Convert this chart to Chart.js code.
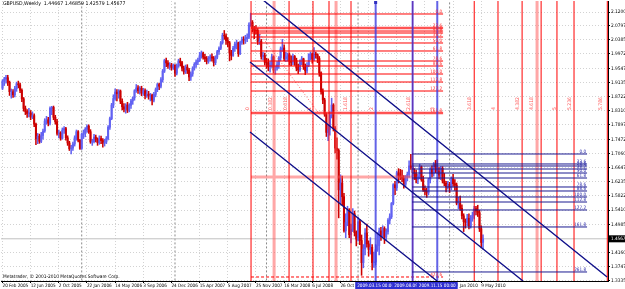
<!DOCTYPE html>
<html>
<head>
<meta charset="utf-8">
<script src="https://cdn.jsdelivr.net/npm/chart.js@4.4.0/dist/chart.umd.min.js"></script>
<style>
  html, body { margin: 0; padding: 0; background: #fff; overflow: hidden; }
  canvas { display: block; }
</style>
</head>
<body>
<canvas id="chart" width="625" height="289" style="width:625px;height:289px"></canvas>
<script>
// GBPUSD weekly, bar 0 = week of 20 Feb 2005
const titleText = "GBPUSD,Weekly  1.44667 1.46859 1.42579 1.45677";
const copyrightText = "Metatrader, \u00a9 2001-2010 MetaQuotes Software Corp.";

const xTickWeeks = [0, 16, 32, 48, 64, 80, 96, 112, 128, 144, 160, 176, 192, 208, 224, 240, 256, 272];
const xTickLabels = ["20 Feb 2005", "12 Jun 2005", "2 Oct 2005", "22 Jan 2006", "14 May 2006", "3 Sep 2006",
  "24 Dec 2006", "15 Apr 2007", "5 Aug 2007", "25 Nov 2007", "16 Mar 2008", "6 Jul 2008", "26 Oct 2008",
  "15 Feb 2009", "7 Jun 2009", "27 Sep 2009", "17 Jan 2010", "9 May 2010"];

const yTickValues = [2.12, 2.07975, 2.0385, 1.99725, 1.95475, 1.9135, 1.87225, 1.831, 1.78975, 1.74725,
  1.706, 1.66475, 1.6235, 1.58225, 1.541, 1.4985, 1.416, 1.37475, 1.3335];
const yTickLabels = ["2.12000", "2.07975", "2.03850", "1.99725", "1.95475", "1.91350", "1.87225", "1.83100",
  "1.78975", "1.74725", "1.70600", "1.66475", "1.62350", "1.58225", "1.54100", "1.49850", "1.41600",
  "1.37475", "1.33350"];

const lastPrice = 1.45677;
const lastPriceLabel = "1.45677";
const yearStartWeeks = [45, 98, 150, 202, 254];

const opens = [
  1.897, 1.918, 1.924, 1.928, 1.914, 1.887, 1.887, 1.878, 1.896, 1.910,
  1.907, 1.891, 1.866, 1.838, 1.829, 1.823, 1.825, 1.813, 1.817, 1.792,
  1.749, 1.757, 1.742, 1.759, 1.772, 1.801, 1.805, 1.795, 1.838, 1.841,
  1.812, 1.799, 1.765, 1.766, 1.751, 1.775, 1.779, 1.752, 1.737, 1.720,
  1.722, 1.734, 1.752, 1.770, 1.745, 1.721, 1.762, 1.766, 1.777, 1.786,
  1.770, 1.740, 1.741, 1.754, 1.748, 1.738, 1.750, 1.744, 1.737, 1.740,
  1.750, 1.783, 1.808, 1.848, 1.867, 1.886, 1.881, 1.889, 1.859, 1.843,
  1.836, 1.848, 1.833, 1.847, 1.860, 1.869, 1.890, 1.898, 1.890, 1.897,
  1.883, 1.890, 1.875, 1.880, 1.874, 1.877, 1.862, 1.879, 1.893, 1.908,
  1.903, 1.922, 1.947, 1.978, 1.971, 1.962, 1.965, 1.958, 1.964, 1.941,
  1.963, 1.977, 1.972, 1.956, 1.945, 1.959, 1.950, 1.930, 1.939, 1.955,
  1.967, 1.974, 1.978, 1.992, 2.000, 1.988, 1.984, 1.976, 1.984, 1.989,
  1.985, 1.972, 1.988, 2.004, 2.014, 2.030, 2.052, 2.050, 2.036, 2.030,
  2.000, 1.993, 2.014, 2.026, 2.030, 1.998, 2.031, 2.040, 2.038, 2.042,
  2.046, 2.082, 2.090, 2.072, 2.067, 2.066, 2.033, 2.035, 1.990, 1.993,
  1.973, 1.971, 1.960, 1.965, 1.989, 1.950, 1.956, 1.966, 1.986, 2.012,
  2.015, 1.984, 1.989, 1.995, 1.976, 1.973, 1.990, 1.978, 1.957, 1.951,
  1.977, 1.983, 1.960, 1.948, 1.964, 1.996, 1.998, 1.982, 1.997, 1.995,
  1.984, 1.942, 1.887, 1.863, 1.821, 1.768, 1.776, 1.819, 1.848, 1.779,
  1.722, 1.715, 1.600, 1.620, 1.580, 1.480, 1.504, 1.540, 1.469, 1.484,
  1.530, 1.475, 1.456, 1.507, 1.452, 1.387, 1.427, 1.474, 1.442, 1.426,
  1.432, 1.387, 1.389, 1.425, 1.437, 1.480, 1.465, 1.487, 1.462, 1.478,
  1.511, 1.521, 1.560, 1.615, 1.606, 1.650, 1.641, 1.637, 1.634, 1.616,
  1.638, 1.645, 1.670, 1.666, 1.650, 1.647, 1.630, 1.640, 1.667, 1.630,
  1.600, 1.596, 1.591, 1.630, 1.660, 1.648, 1.674, 1.666, 1.655, 1.643,
  1.663, 1.626, 1.619, 1.609, 1.616, 1.607, 1.633, 1.618, 1.614, 1.561,
  1.561, 1.546, 1.524, 1.507, 1.505, 1.517, 1.494, 1.519, 1.526, 1.545,
  1.538, 1.533, 1.486, 1.4467
];
const highs = [
  1.922, 1.929, 1.935, 1.935, 1.918, 1.895, 1.893, 1.903, 1.915, 1.918,
  1.912, 1.895, 1.870, 1.845, 1.835, 1.838, 1.832, 1.828, 1.822, 1.795,
  1.765, 1.763, 1.768, 1.778, 1.808, 1.815, 1.812, 1.843, 1.844, 1.845,
  1.818, 1.806, 1.775, 1.770, 1.781, 1.785, 1.783, 1.758, 1.742, 1.730,
  1.740, 1.758, 1.775, 1.773, 1.748, 1.766, 1.775, 1.782, 1.790, 1.790,
  1.776, 1.748, 1.762, 1.760, 1.752, 1.758, 1.757, 1.750, 1.748, 1.756,
  1.788, 1.813, 1.853, 1.878, 1.895, 1.893, 1.893, 1.892, 1.866, 1.852,
  1.852, 1.856, 1.852, 1.865, 1.872, 1.893, 1.908, 1.905, 1.902, 1.903,
  1.897, 1.895, 1.892, 1.888, 1.882, 1.880, 1.885, 1.898, 1.912, 1.912,
  1.928, 1.952, 1.982, 1.985, 1.978, 1.972, 1.970, 1.968, 1.966, 1.968,
  1.982, 1.985, 1.976, 1.962, 1.965, 1.966, 1.955, 1.945, 1.960, 1.972,
  1.980, 1.985, 2.002, 2.006, 2.003, 1.996, 1.990, 1.990, 1.995, 1.998,
  1.990, 1.992, 2.008, 2.018, 2.034, 2.058, 2.066, 2.056, 2.045, 2.034,
  2.008, 2.020, 2.032, 2.038, 2.032, 2.035, 2.047, 2.048, 2.052, 2.056,
  2.088, 2.116, 2.095, 2.078, 2.080, 2.072, 2.055, 2.040, 2.002, 2.000,
  1.985, 1.983, 1.975, 1.996, 1.992, 1.962, 1.975, 1.990, 2.018, 2.040,
  2.024, 2.002, 2.000, 2.000, 1.992, 1.997, 1.993, 1.985, 1.968, 1.980,
  1.990, 1.985, 1.968, 1.972, 1.998, 2.003, 2.000, 2.016, 2.003, 1.998,
  1.990, 1.945, 1.895, 1.868, 1.825, 1.790, 1.828, 1.868, 1.852, 1.785,
  1.752, 1.720, 1.644, 1.640, 1.590, 1.530, 1.552, 1.545, 1.500, 1.545,
  1.538, 1.480, 1.520, 1.513, 1.468, 1.440, 1.487, 1.500, 1.451, 1.460,
  1.440, 1.418, 1.440, 1.475, 1.488, 1.490, 1.495, 1.492, 1.486, 1.516,
  1.530, 1.563, 1.618, 1.625, 1.655, 1.662, 1.660, 1.658, 1.642, 1.642,
  1.652, 1.685, 1.704, 1.673, 1.662, 1.658, 1.645, 1.675, 1.670, 1.640,
  1.612, 1.605, 1.634, 1.665, 1.670, 1.680, 1.686, 1.688, 1.665, 1.668,
  1.668, 1.648, 1.625, 1.625, 1.622, 1.638, 1.645, 1.630, 1.620, 1.578,
  1.582, 1.556, 1.530, 1.515, 1.528, 1.530, 1.525, 1.535, 1.552, 1.552,
  1.555, 1.540, 1.495, 1.4686
];
const lows = [
  1.893, 1.905, 1.912, 1.905, 1.876, 1.868, 1.870, 1.872, 1.888, 1.898,
  1.884, 1.858, 1.830, 1.820, 1.812, 1.813, 1.805, 1.808, 1.785, 1.732,
  1.735, 1.736, 1.738, 1.748, 1.768, 1.792, 1.787, 1.790, 1.820, 1.805,
  1.792, 1.760, 1.752, 1.745, 1.748, 1.765, 1.745, 1.730, 1.715, 1.705,
  1.715, 1.728, 1.745, 1.740, 1.718, 1.718, 1.750, 1.755, 1.768, 1.765,
  1.736, 1.730, 1.737, 1.740, 1.730, 1.733, 1.735, 1.725, 1.728, 1.735,
  1.746, 1.777, 1.805, 1.840, 1.862, 1.860, 1.868, 1.852, 1.834, 1.828,
  1.824, 1.826, 1.828, 1.838, 1.850, 1.862, 1.885, 1.882, 1.880, 1.875,
  1.876, 1.866, 1.870, 1.865, 1.860, 1.848, 1.857, 1.872, 1.887, 1.893,
  1.898, 1.915, 1.943, 1.960, 1.955, 1.952, 1.950, 1.952, 1.932, 1.936,
  1.958, 1.962, 1.948, 1.938, 1.940, 1.940, 1.919, 1.920, 1.932, 1.950,
  1.958, 1.966, 1.975, 1.985, 1.982, 1.975, 1.968, 1.970, 1.976, 1.976,
  1.962, 1.966, 1.983, 1.996, 2.010, 2.026, 2.040, 2.025, 2.018, 1.977,
  1.980, 1.990, 2.005, 2.012, 1.990, 1.995, 2.025, 2.026, 2.028, 2.033,
  2.042, 2.078, 2.062, 2.042, 2.055, 2.025, 2.025, 1.982, 1.980, 1.965,
  1.955, 1.948, 1.944, 1.958, 1.942, 1.938, 1.950, 1.955, 1.978, 2.005,
  1.978, 1.975, 1.976, 1.965, 1.963, 1.966, 1.964, 1.948, 1.940, 1.946,
  1.966, 1.952, 1.937, 1.942, 1.960, 1.980, 1.970, 1.978, 1.985, 1.972,
  1.932, 1.880, 1.852, 1.815, 1.756, 1.744, 1.760, 1.810, 1.772, 1.708,
  1.690, 1.518, 1.560, 1.556, 1.476, 1.460, 1.495, 1.460, 1.445, 1.478,
  1.465, 1.436, 1.450, 1.440, 1.350, 1.372, 1.410, 1.432, 1.406, 1.412,
  1.366, 1.373, 1.380, 1.420, 1.410, 1.452, 1.460, 1.443, 1.452, 1.470,
  1.500, 1.516, 1.556, 1.586, 1.598, 1.620, 1.630, 1.624, 1.605, 1.608,
  1.626, 1.636, 1.660, 1.640, 1.630, 1.620, 1.618, 1.632, 1.625, 1.595,
  1.585, 1.578, 1.585, 1.620, 1.638, 1.640, 1.650, 1.648, 1.632, 1.630,
  1.620, 1.612, 1.594, 1.602, 1.592, 1.600, 1.610, 1.598, 1.556, 1.545,
  1.540, 1.515, 1.478, 1.488, 1.495, 1.486, 1.488, 1.508, 1.515, 1.527,
  1.522, 1.478, 1.430, 1.4258
];
const closes = [
  1.918, 1.924, 1.928, 1.914, 1.887, 1.887, 1.878, 1.896, 1.910, 1.907,
  1.891, 1.866, 1.838, 1.829, 1.823, 1.825, 1.813, 1.817, 1.792, 1.749,
  1.757, 1.742, 1.759, 1.772, 1.801, 1.805, 1.795, 1.838, 1.841, 1.812,
  1.799, 1.765, 1.766, 1.751, 1.775, 1.779, 1.752, 1.737, 1.720, 1.722,
  1.734, 1.752, 1.770, 1.745, 1.721, 1.762, 1.766, 1.777, 1.786, 1.770,
  1.740, 1.741, 1.754, 1.748, 1.738, 1.750, 1.744, 1.737, 1.740, 1.750,
  1.783, 1.808, 1.848, 1.867, 1.886, 1.881, 1.889, 1.859, 1.843, 1.836,
  1.848, 1.833, 1.847, 1.860, 1.869, 1.890, 1.898, 1.890, 1.897, 1.883,
  1.890, 1.875, 1.880, 1.874, 1.877, 1.862, 1.879, 1.893, 1.908, 1.903,
  1.922, 1.947, 1.978, 1.971, 1.962, 1.965, 1.958, 1.964, 1.941, 1.963,
  1.977, 1.972, 1.956, 1.945, 1.959, 1.950, 1.930, 1.939, 1.955, 1.967,
  1.974, 1.978, 1.992, 2.000, 1.988, 1.984, 1.976, 1.984, 1.989, 1.985,
  1.972, 1.988, 2.004, 2.014, 2.030, 2.052, 2.050, 2.036, 2.030, 2.000,
  1.993, 2.014, 2.026, 2.030, 1.998, 2.031, 2.040, 2.038, 2.042, 2.046,
  2.082, 2.090, 2.072, 2.067, 2.066, 2.033, 2.035, 1.990, 1.993, 1.973,
  1.971, 1.960, 1.965, 1.989, 1.950, 1.956, 1.966, 1.986, 2.012, 2.015,
  1.984, 1.989, 1.995, 1.976, 1.973, 1.990, 1.978, 1.957, 1.951, 1.977,
  1.983, 1.960, 1.948, 1.964, 1.996, 1.998, 1.982, 1.997, 1.995, 1.984,
  1.942, 1.887, 1.863, 1.821, 1.768, 1.776, 1.819, 1.848, 1.779, 1.722,
  1.715, 1.600, 1.620, 1.580, 1.480, 1.504, 1.540, 1.469, 1.484, 1.530,
  1.475, 1.456, 1.507, 1.452, 1.387, 1.427, 1.474, 1.442, 1.426, 1.432,
  1.387, 1.389, 1.425, 1.437, 1.480, 1.465, 1.487, 1.462, 1.478, 1.511,
  1.521, 1.560, 1.615, 1.606, 1.650, 1.641, 1.637, 1.634, 1.616, 1.638,
  1.645, 1.670, 1.666, 1.650, 1.647, 1.630, 1.640, 1.667, 1.630, 1.600,
  1.596, 1.591, 1.630, 1.660, 1.648, 1.674, 1.666, 1.655, 1.643, 1.663,
  1.626, 1.619, 1.609, 1.616, 1.607, 1.633, 1.618, 1.614, 1.561, 1.561,
  1.546, 1.524, 1.507, 1.505, 1.517, 1.494, 1.519, 1.526, 1.545, 1.538,
  1.533, 1.486, 1.446, 1.4568
];

// red fibo retracement from the Nov 2007 top
const redFiboPrices = [2.1142, 2.0732, 2.0644, 2.0586, 2.0469, 2.0294, 2.0060, 1.9767, 1.9621, 1.9387, 1.9153, 1.8890, 1.8247];
const redFiboLabels = ["0.0", "23.6", "28.6", "32.8", "38.2", "50.0", "61.8", "78.6", "88.6", "100.0", "112.8", "127.2", "161.8"];
const redFiboFrom = 141.2, redFiboTo = 250.3;
const redExtPrice = 1.3451, redExtLabel = "423.6";
const pinkLevelPrices = [2.0732, 1.8247, 1.6376];
const pinkLevelEnds = [250.3, 250.3, 232.7];

// blue fibo retracement from the Aug 2009 top
const blueFiboPrices = [1.7048, 1.6756, 1.6697, 1.6609, 1.6492, 1.6346, 1.6083, 1.5966, 1.5791, 1.5644, 1.5411, 1.4914, 1.3598];
const blueFiboLabels = ["0.0", "23.6", "28.6", "38.2", "50.0", "61.8", "78.6", "88.6", "100.0", "112.8", "127.2", "161.8", "261.8"];
const blueFiboFrom = 232.7, blueFiboTo = 332.1;

// fibo time zones
const redTimeWeeks = [141.2, 162.8, 176.4, 185.5, 198.0, 233.0, 268.0, 281.5, 295.2, 306.0, 315.0, 324.7, 343.6];
const pinkTimeWeeks = [154.3, 189.5, 303.7];
const timeLabels = ["0", "0.382", "0.618", "1", "1.618", "2", "2.618", "3", "3.618", "4", "4.382", "4.618", "5", "5.236", "5.786"];
const timeLabelWeeks = [141.2, 154.3, 162.8, 176.4, 197.0, 211.6, 232.6, 246.6, 267.6, 280.9, 294.6, 302.4, 315.5, 324.5, 341.8];
const timeLabelPrice = 1.8335;

// blue vertical lines
const blueVWeeks = [212, 233, 247];
const blueVLabels = ["2009.03.15 00:00", "2009.08.09 00:00", "2009.11.15 00:00"];

// channel lines [week1, price1, week2, price2]
const channelLines = [
  [141.2, 2.1834, 343.5, 1.3452],
  [140.6, 1.9738, 295.7, 1.3335],
  [140.6, 1.7691, 246.9, 1.3335]
];
const dottedTrend = [141.2, 2.0908, 180.4, 1.8188];

const X_MIN = -0.85, X_MAX = 344.0;
const Y_MIN = 1.3334, Y_MAX = 2.1522;
const FONT = "'Liberation Sans Narrow', 'DejaVu Sans Condensed', 'Liberation Sans', sans-serif";
const BULL = '#6262f2', BEAR = '#cc0000';

// helpers for building line segments separated by gaps
function hSegs(prices, from, to) {
  const pts = [];
  prices.forEach((p, i) => {
    const end = Array.isArray(to) ? to[i] : to;
    pts.push({ x: from, y: p }, { x: end, y: p }, { x: end, y: null });
  });
  return pts;
}
function vSegs(weeks) {
  const pts = [];
  weeks.forEach(w => pts.push({ x: w, y: 1.30 }, { x: w, y: 2.20 }, { x: w, y: null }));
  return pts;
}

const candleColors = closes.map((c, i) => (c >= opens[i] ? BULL : BEAR));
const wickData = highs.map((h, i) => ({ x: i, y: [lows[i], h] }));
const bodyData = opens.map((o, i) => ({ x: i, y: [o, closes[i]] }));

const lineBase = { type: 'line', pointRadius: 0, tension: 0, spanGaps: false, fill: false };

const overlayText = {
  id: 'overlayText',
  afterDraw(chart) {
    const { ctx, chartArea: area, scales: { x, y } } = chart;
    const f = s => `${s}px ${FONT}`;

    ctx.save();
    ctx.beginPath();
    ctx.rect(area.left, area.top, area.right - area.left, area.bottom - area.top);
    ctx.clip();

    // fibo level labels
    ctx.font = f(4.6);
    ctx.textAlign = 'right';
    ctx.textBaseline = 'bottom';
    ctx.fillStyle = '#ff3030';
    redFiboPrices.forEach((p, i) => ctx.fillText(redFiboLabels[i], x.getPixelForValue(redFiboTo) - 1, y.getPixelForValue(p)));
    ctx.fillText(redExtLabel, x.getPixelForValue(redFiboTo) - 1, y.getPixelForValue(redExtPrice));
    ctx.fillStyle = '#2a2aa8';
    blueFiboPrices.forEach((p, i) => ctx.fillText(blueFiboLabels[i], x.getPixelForValue(blueFiboTo) - 1, y.getPixelForValue(p)));

    // time zone labels, vertical
    ctx.font = f(5);
    ctx.fillStyle = '#ff5a5a';
    timeLabels.forEach((t, i) => {
      ctx.save();
      ctx.translate(x.getPixelForValue(timeLabelWeeks[i]) - 1, y.getPixelForValue(timeLabelPrice));
      ctx.rotate(-Math.PI / 2);
      ctx.textAlign = 'left';
      ctx.textBaseline = 'bottom';
      ctx.fillText(t, 0, 0);
      ctx.restore();
    });

    // marker on top of first blue line
    ctx.fillStyle = '#3030c0';
    ctx.fillRect(x.getPixelForValue(blueVWeeks[0]) - 1.5, area.top, 3, 3);

    // title and copyright
    ctx.fillStyle = '#000';
    ctx.textAlign = 'left';
    ctx.textBaseline = 'middle';
    ctx.font = f(5.2);
    ctx.fillText(titleText, area.left + 2, area.top + 3);
    ctx.font = f(4.8);
    ctx.fillText(copyrightText, area.left + 2, area.bottom - 4);
    ctx.restore();

    // date boxes on the time axis
    ctx.save();
    ctx.font = f(4.6);
    ctx.textAlign = 'center';
    ctx.textBaseline = 'middle';
    blueVLabels.forEach((t, i) => {
      const px = x.getPixelForValue(blueVWeeks[i]);
      const w = ctx.measureText(t).width + 4;
      ctx.fillStyle = '#2f2fd2';
      ctx.fillRect(px - w / 2, area.bottom + 1, w, 7);
      ctx.fillStyle = '#fff';
      ctx.fillText(t, px, area.bottom + 4.5);
    });

    // last price box
    const py = y.getPixelForValue(lastPrice);
    ctx.fillStyle = '#000';
    ctx.fillRect(area.right + 1, py - 3.5, chart.width - area.right, 7);
    ctx.fillStyle = '#fff';
    ctx.textAlign = 'left';
    ctx.fillText(lastPriceLabel, area.right + 3, py);
    ctx.restore();
  }
};

const chart = new Chart(document.getElementById('chart'), {
  type: 'bar',
  data: {
    datasets: [
      { ...lineBase, data: [{ x: X_MIN, y: lastPrice }, { x: X_MAX, y: lastPrice }], borderColor: '#c0c0c0', borderWidth: 1, order: 20 },
      { ...lineBase, data: vSegs(yearStartWeeks), borderColor: '#8a8a8a', borderWidth: 1, borderDash: [2, 2], order: 20 },
      { type: 'bar', data: wickData, backgroundColor: candleColors, barThickness: 0.9, grouped: false, borderWidth: 0, order: 11 },
      { type: 'bar', data: bodyData, backgroundColor: candleColors, barThickness: 1.4, grouped: false, borderWidth: 0, minBarLength: 0.6, order: 10 },
      { ...lineBase, data: hSegs(pinkLevelPrices, redFiboFrom, pinkLevelEnds).concat(vSegs(pinkTimeWeeks)), borderColor: 'rgba(255,80,80,0.5)', borderWidth: 3, order: 6 },
      { ...lineBase, data: hSegs(redFiboPrices, redFiboFrom, redFiboTo), borderColor: '#ff0000', borderWidth: 1, order: 5 },
      { ...lineBase, data: hSegs([redExtPrice], redFiboFrom, redFiboTo), borderColor: '#ff0000', borderWidth: 1, borderDash: [3, 2], order: 5 },
      { ...lineBase, data: vSegs(redTimeWeeks), borderColor: '#ff0000', borderWidth: 1, order: 5 },
      { ...lineBase, data: [{ x: dottedTrend[0], y: dottedTrend[1] }, { x: dottedTrend[2], y: dottedTrend[3] }], borderColor: 'rgba(255,70,70,0.8)', borderWidth: 1, borderDash: [1, 2], order: 5 },
      { ...lineBase, data: vSegs(blueVWeeks), borderColor: 'rgba(60,60,225,0.8)', borderWidth: 2, order: 4 },
      { ...lineBase, data: hSegs(blueFiboPrices, blueFiboFrom, blueFiboTo), borderColor: '#1a1a90', borderWidth: 1, order: 3 },
      { ...lineBase, data: channelLines.flatMap(l => [{ x: l[0], y: l[1] }, { x: l[2], y: l[3] }, { x: l[2], y: null }]), borderColor: '#10108a', borderWidth: 1.4, order: 2 }
    ]
  },
  options: {
    responsive: false,
    maintainAspectRatio: false,
    devicePixelRatio: 1,
    animation: false,
    events: [],
    layout: { padding: { left: 1, top: 1, right: 0, bottom: 0 } },
    plugins: { legend: { display: false }, tooltip: { enabled: false } },
    scales: {
      x: {
        type: 'linear',
        position: 'bottom',
        min: X_MIN,
        max: X_MAX,
        offset: false,
        grid: { offset: false, color: '#d2d2d2', tickLength: 2, tickColor: '#000' },
        border: { display: true, color: '#000', width: 1, dash: [1, 2] },
        ticks: {
          align: 'start',
          autoSkip: false,
          maxRotation: 0,
          padding: 0,
          color: '#000',
          font: { family: FONT, size: 4.6 },
          callback: (v, i) => xTickLabels[i]
        },
        afterBuildTicks: scale => { scale.ticks = xTickWeeks.map(v => ({ value: v })); },
        afterFit: scale => {
          scale.height = 8;
          scale.paddingLeft = scale.paddingRight = scale.paddingTop = scale.paddingBottom = 0;
        }
      },
      y: {
        type: 'linear',
        position: 'right',
        min: Y_MIN,
        max: Y_MAX,
        grid: { color: '#d2d2d2', tickLength: 2, tickColor: '#000' },
        border: { display: true, color: '#000', width: 1, dash: [1, 2] },
        ticks: {
          autoSkip: false,
          padding: 1,
          color: '#000',
          font: { family: FONT, size: 4.8 },
          callback: (v, i) => yTickLabels[i]
        },
        afterBuildTicks: scale => { scale.ticks = yTickValues.map(v => ({ value: v })); },
        afterFit: scale => {
          scale.width = 17;
          scale.paddingLeft = scale.paddingRight = scale.paddingTop = scale.paddingBottom = 0;
        }
      }
    }
  },
  plugins: [overlayText]
});
</script>
</body>
</html>
